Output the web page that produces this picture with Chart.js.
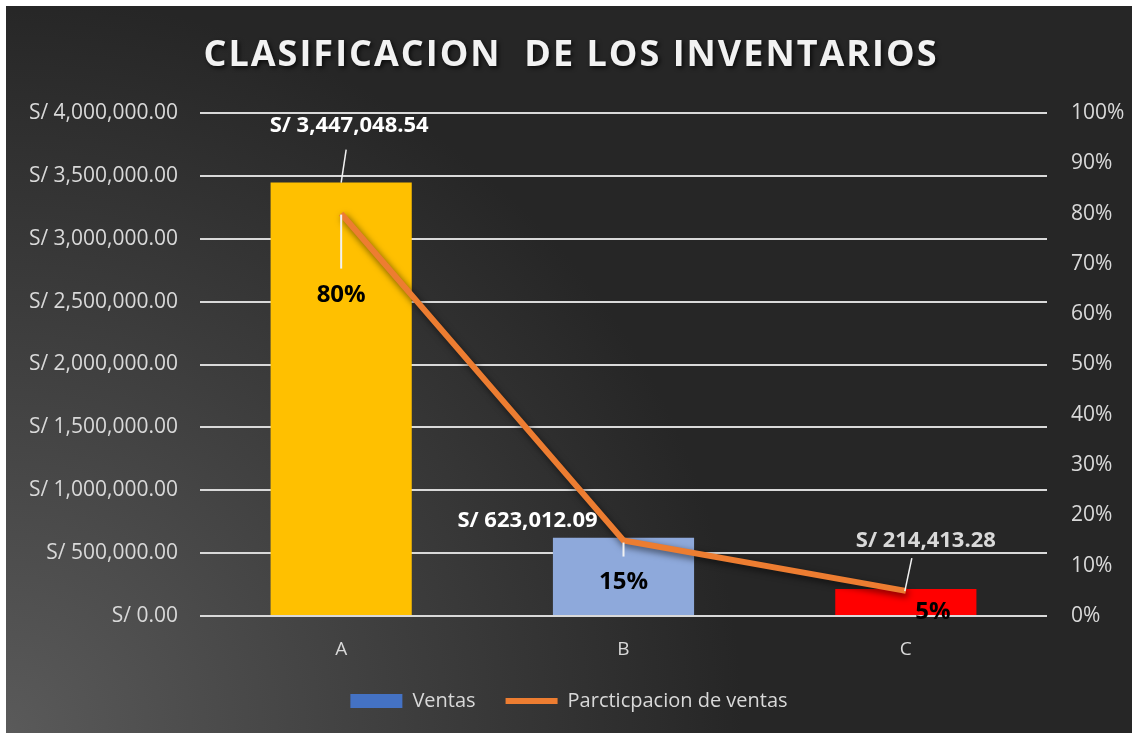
<!DOCTYPE html>
<html lang="es">

<head>
    <meta charset="UTF-8">
    <title>Clasificacion de los inventarios</title>
    <script src="https://cdn.jsdelivr.net/npm/chart.js"></script>
    <style>
        html, body { margin: 0; padding: 0; background: #ffffff; }
        .chart-box {
            position: absolute;
            left: 6px;
            top: 6px;
            width: 1126px;
            height: 727px;
            background: radial-gradient(circle farthest-corner at 0% 100%, #5a5a5a 0%, #262626 55%);
        }
    </style>
</head>

<body>
    <div class="chart-box">
        <canvas id="inventarioChart" width="1126" height="727"></canvas>
    </div>

    <script>
        // datos
        const titulo = 'CLASIFICACION  DE LOS INVENTARIOS';
        const categorias = ['A', 'B', 'C'];
        const ventas = [3447048.54, 623012.09, 214413.28];
        const participacion = [0.80, 0.15, 0.05];
        const coloresBarras = ['#FFC000', '#8EA9DB', '#FF0000'];

        const soles = v => 'S/ ' + v.toLocaleString('en-US', { minimumFractionDigits: 2, maximumFractionDigits: 2 });
        const pct = v => Math.round(v * 100) + '%';

        // posicion de las etiquetas respecto a cada punto (estilo, no datos)
        const barLabelStyle = [
            { dx: 8, dy: -57, color: '#ffffff', lead: [5, -33, 0, 0] },
            { dx: -96, dy: -17, color: '#ffffff', lead: null },
            { dx: 20, dy: -48, color: '#d9d9d9', lead: [6, -31, -1, 2] }
        ];
        const lineLabelStyle = [
            { dx: 0, dy: 82, lead: [0, 1, 0, 55] },
            { dx: 0, dy: 42, lead: [0, 2, 0, 16] },
            { dx: 27, dy: 21, lead: null }
        ];

        const labelsPlugin = {
            id: 'etiquetas',
            beforeDatasetDraw(chart, args) {
                if (args.index === 1) {
                    const ctx = chart.ctx;
                    ctx.save();
                    ctx.shadowColor = 'rgba(0,0,0,0.6)';
                    ctx.shadowBlur = 7;
                    ctx.shadowOffsetX = 2;
                    ctx.shadowOffsetY = 3;
                }
            },
            afterDatasetDraw(chart, args) {
                if (args.index === 1) chart.ctx.restore();
            },
            afterDatasetsDraw(chart) {
                const ctx = chart.ctx;
                ctx.save();
                ctx.textAlign = 'center';
                ctx.textBaseline = 'middle';
                ctx.lineWidth = 1.5;

                ctx.font = 'bold 22px "Open Sans"';
                chart.getDatasetMeta(0).data.forEach((el, i) => {
                    const s = barLabelStyle[i];
                    if (s.lead) {
                        ctx.strokeStyle = '#f2f2f2';
                        ctx.beginPath();
                        ctx.moveTo(el.x + s.lead[0], el.y + s.lead[1]);
                        ctx.lineTo(el.x + s.lead[2], el.y + s.lead[3]);
                        ctx.stroke();
                    }
                    ctx.fillStyle = s.color;
                    ctx.fillText(soles(ventas[i]), el.x + s.dx, el.y + s.dy);
                });

                ctx.font = 'bold 24px "Open Sans"';
                chart.getDatasetMeta(1).data.forEach((el, i) => {
                    const s = lineLabelStyle[i];
                    if (s.lead) {
                        ctx.strokeStyle = '#f2f2f2';
                        ctx.lineWidth = 2;
                        ctx.beginPath();
                        ctx.moveTo(el.x + s.lead[0], el.y + s.lead[1]);
                        ctx.lineTo(el.x + s.lead[2], el.y + s.lead[3]);
                        ctx.stroke();
                    }
                    ctx.fillStyle = '#000000';
                    ctx.fillText(pct(participacion[i]), el.x + s.dx, el.y + s.dy);
                });
                ctx.restore();
            },
            afterDraw(chart) {
                // titulo espaciado con sombra, como en Excel
                const ctx = chart.ctx;
                ctx.save();
                ctx.font = 'bold 36px "Open Sans"';
                ctx.letterSpacing = '2px';
                ctx.textAlign = 'center';
                ctx.textBaseline = 'middle';
                ctx.shadowColor = 'rgba(0,0,0,0.7)';
                ctx.shadowBlur = 4;
                ctx.shadowOffsetX = 2;
                ctx.shadowOffsetY = 2;
                ctx.fillStyle = '#f2f2f2';
                ctx.fillText(titulo, chart.width / 2 + 2, 50);
                ctx.restore();
            }
        };

        const tickFont = { family: 'Open Sans', size: 21 };

        new Chart(document.getElementById('inventarioChart'), {
            type: 'bar',
            data: {
                labels: categorias,
                datasets: [{
                    label: 'Ventas',
                    data: ventas,
                    backgroundColor: coloresBarras,
                    barPercentage: 0.5,
                    categoryPercentage: 1,
                    yAxisID: 'y',
                    order: 2
                }, {
                    type: 'line',
                    label: 'Parcticpacion de ventas',
                    data: participacion,
                    borderColor: '#ED7D31',
                    borderWidth: 6,
                    pointRadius: 0,
                    tension: 0,
                    yAxisID: 'y1',
                    order: 1
                }]
            },
            options: {
                responsive: false,
                animation: false,
                layout: { padding: { top: 107, bottom: 12, left: 0, right: 0 } },
                plugins: {
                    title: { display: false },
                    legend: {
                        position: 'bottom',
                        labels: {
                            color: '#d9d9d9',
                            font: { family: 'Open Sans', size: 20 },
                            usePointStyle: true,
                            pointStyleWidth: 52,
                            boxHeight: 14,
                            padding: 30,
                            generateLabels(chart) {
                                return [{
                                    text: 'Ventas',
                                    pointStyle: 'rect',
                                    fillStyle: '#4472C4',
                                    strokeStyle: '#4472C4',
                                    lineWidth: 0,
                                    fontColor: '#d9d9d9',
                                    datasetIndex: 0
                                }, {
                                    text: 'Parcticpacion de ventas',
                                    pointStyle: 'line',
                                    fillStyle: '#ED7D31',
                                    strokeStyle: '#ED7D31',
                                    lineWidth: 6,
                                    fontColor: '#d9d9d9',
                                    datasetIndex: 1
                                }];
                            }
                        }
                    },
                    tooltip: { enabled: false }
                },
                scales: {
                    x: {
                        grid: { display: false, drawTicks: false },
                        border: { display: false },
                        ticks: { color: '#d9d9d9', font: { family: 'Open Sans', size: 19 }, padding: 22 },
                        afterFit(s) { s.height = 45; }
                    },
                    y: {
                        position: 'left',
                        min: 0,
                        max: 4000000,
                        grid: { color: '#d9d9d9', lineWidth: 2, drawTicks: false },
                        border: { display: false },
                        ticks: { stepSize: 500000, color: '#d9d9d9', font: tickFont, padding: 22, callback: v => soles(v) },
                        afterFit(s) { s.width = 194; }
                    },
                    y1: {
                        position: 'right',
                        min: 0,
                        max: 1,
                        grid: { display: false, drawTicks: false },
                        border: { display: false },
                        ticks: { stepSize: 0.1, color: '#d9d9d9', font: tickFont, padding: 24, callback: v => pct(v) },
                        afterFit(s) { s.width = 85; }
                    }
                }
            },
            plugins: [labelsPlugin]
        });
    </script>
</body>

</html>
